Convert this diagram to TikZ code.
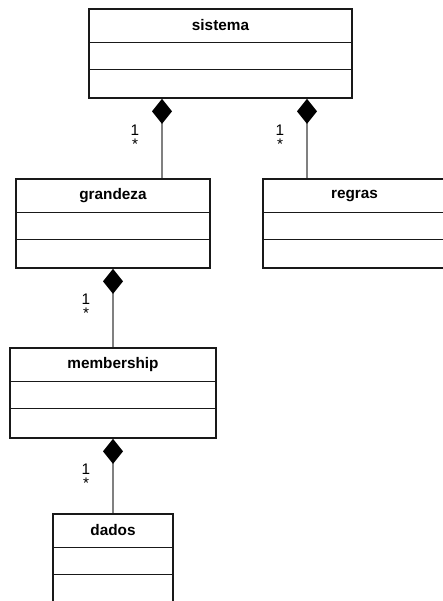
\documentclass[tikz,border=0pt]{standalone}
\usepackage{fontspec}
\setmainfont{Liberation Sans}
\usetikzlibrary{arrows.meta,fit}
\tikzset{
  classbox/.style={draw=black!90,line width=1.3pt,inner sep=0pt},
  classsep/.style={draw=black!90,line width=1.3pt},
  classtitle/.style={font=\fontsize{11.5}{13}\selectfont\bfseries,inner sep=0pt},
  comp/.style={draw=gray,line width=0.8pt,
    -{Diamond[length=18.75pt,width=15pt,color=black,fill=black]}},
  mult/.style={font=\fontsize{11.5}{13}\selectfont,inner sep=0pt}
}
% caixa de classe: nome, x1, y1, x2, y2, titulo
\newcommand{\umlclass}[6]{%
  \node[classbox,fit={(#2,#3) (#4,#5)}] (#1) {};
  \draw[classsep] (#1.west |- 0,{#3+33.5}) -- (#1.east |- 0,{#3+33.5});
  \draw[classsep] (#1.west |- 0,{#3+60.5}) -- (#1.east |- 0,{#3+60.5});
  \node[classtitle] (#1-t) at (#1.north |- 0,{#3+16.5}) {#6};
}
\begin{document}
\begin{tikzpicture}[x=0.75pt,y=-0.75pt]
  \useasboundingbox (0,0) rectangle (443,601);
  \clip (0,0) rectangle (443,601);
  %	classes
  \umlclass{sistema}{89}{9}{352}{98}{sistema}
  \umlclass{grandeza}{16}{179}{210}{268}{grandeza}
  \umlclass{regras}{263}{179}{446}{268}{regras}
  \umlclass{membership}{10}{348}{216}{438}{membership}
  \umlclass{dados}{53}{514}{173}{612}{dados}
  %	composicoes
  \draw[comp] (grandeza.north -| 162,0) -- (sistema.south -| 162,0);
  \draw[comp] (regras.north -| 307,0) -- (sistema.south -| 307,0);
  \draw[comp] (membership.north -| 113,0) -- (grandeza.south -| 113,0);
  \draw[comp] (dados.north -| 113,0) -- (membership.south -| 113,0);
  %	multiplicidades
  \node[mult] (m1a) at (135,130) {1};
  \node[mult] (m1b) at (135,144) {*};
  \node[mult] (m2a) at (280,130) {1};
  \node[mult] (m2b) at (280,144) {*};
  \node[mult] (m3a) at (86,299) {1};
  \node[mult] (m3b) at (86,313) {*};
  \node[mult] (m4a) at (86,469) {1};
  \node[mult] (m4b) at (86,483) {*};
\end{tikzpicture}
\end{document}
